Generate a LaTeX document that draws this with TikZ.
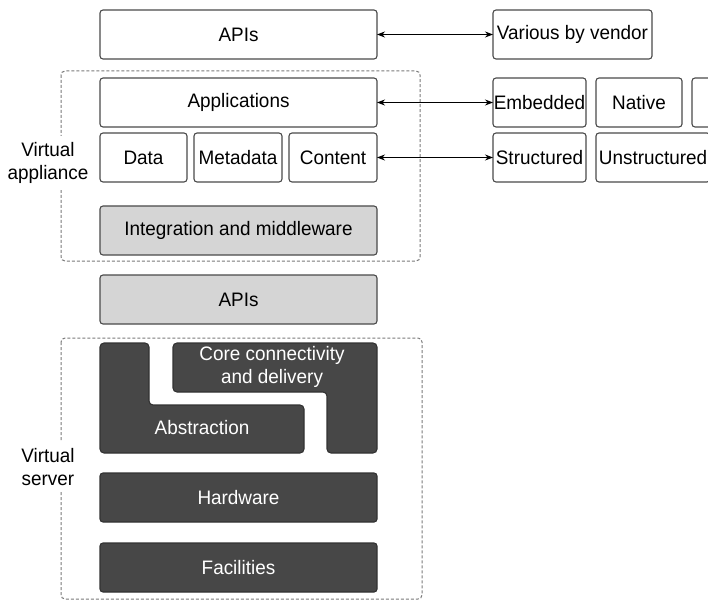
\documentclass[tikz,border=0pt]{standalone}
\usepackage{fontspec}
\setmainfont{Liberation Sans}[FakeStretch=0.97]
\usetikzlibrary{arrows.meta,positioning}
\usepackage{xcolor}
\definecolor{edgegray}{HTML}{4A4A4A}
\definecolor{lightfill}{HTML}{D5D5D5}
\definecolor{darkfill}{HTML}{474747}
\definecolor{zonegray}{HTML}{7A7A7A}

\begin{document}
\begin{tikzpicture}[
				x=1pt,y=-1pt,
				font=\fontsize{19.5}{23}\selectfont,
				layer/.style={draw=edgegray,line width=1.1pt,rounded corners=3pt,fill=white,minimum height=49pt,inner sep=0pt,outer sep=0pt},
				fullwidth/.style={layer,minimum width=277pt},
				greybox/.style={fill=lightfill},
				darkbox/.style={layer,fill=darkfill,draw=darkfill!70!black,text=white},
				zone/.style={draw=zonegray,dash pattern=on 3pt off 2pt,line width=1pt,rounded corners=4pt},
				sidelabel/.style={fill=white,align=center,inner xsep=1pt,inner ysep=6pt},
				biarrow/.style={{Stealth[length=8pt,width=6pt]}-{Stealth[length=8pt,width=6pt]},line width=0.9pt}
				]
				\useasboundingbox (0,0) rectangle (708,601);
				\clip (0,0) rectangle (708,601);
				
				% Zone tratteggiate
				\draw[zone] (61,71) rectangle (420,261);
				\draw[zone] (61,338) rectangle (422,599);
				\node[sidelabel] (appliance) at (48,163) {Virtual\\appliance};
				\node[sidelabel] (server) at (48,467) {Virtual\\server};
				
				% Colonna centrale
				\node[fullwidth] (apitop) at (238.5,34.5) {APIs};
				\node[fullwidth,below=19pt of apitop] (apps) {Applications};
				\node[layer,minimum width=87pt,below=6pt of apps.south west,anchor=north west] (data) {Data};
				\node[layer,minimum width=88pt,right=7pt of data] (metadata) {Metadata};
				\node[layer,minimum width=88pt,right=7pt of metadata] (content) {Content};
				\node[fullwidth,greybox,below=24pt of content.south east,anchor=north east] (middleware) {Integration and middleware};
				\node[fullwidth,greybox,below=20pt of middleware] (apimid) {APIs};
				
				% Blocchi a L del server
				\draw[darkbox,rounded corners=4pt] (100,343) -- (149,343) -- (149,405) -- (304,405) -- (304,453) -- (100,453) -- cycle;
				\draw[darkbox,rounded corners=4pt] (173,343) -- (377,343) -- (377,453) -- (327,453) -- (327,392) -- (173,392) -- cycle;
				\node[text=white] (abstraction) at (202,428) {Abstraction};
				\node[text=white,align=center] (core) at (272,367) {Core connectivity\\and delivery};
				
				\node[fullwidth,darkbox] (hardware) at (238.5,497.5) {Hardware};
				\node[fullwidth,darkbox,below=21pt of hardware] (facilities) {Facilities};
				
				% Colonna destra
				\node[layer,minimum width=159pt,right=116pt of apitop] (vendor) {Various by vendor};
				\node[layer,minimum width=93pt,right=116pt of apps] (embedded) {Embedded};
				\node[layer,minimum width=86pt,right=10pt of embedded] (native) {Native};
				\node[layer,minimum width=60pt,right=10pt of native] (other) {};
				\node[layer,minimum width=93pt,right=116pt of content] (structured) {Structured};
				\node[layer,minimum width=114pt,right=10pt of structured] (unstructured) {Unstructured};
				
				% Connessioni
				\draw[biarrow] (apitop) -- (vendor);
				\draw[biarrow] (apps) -- (embedded);
				\draw[biarrow] (content) -- (structured);
				
			\end{tikzpicture}
\end{document}
